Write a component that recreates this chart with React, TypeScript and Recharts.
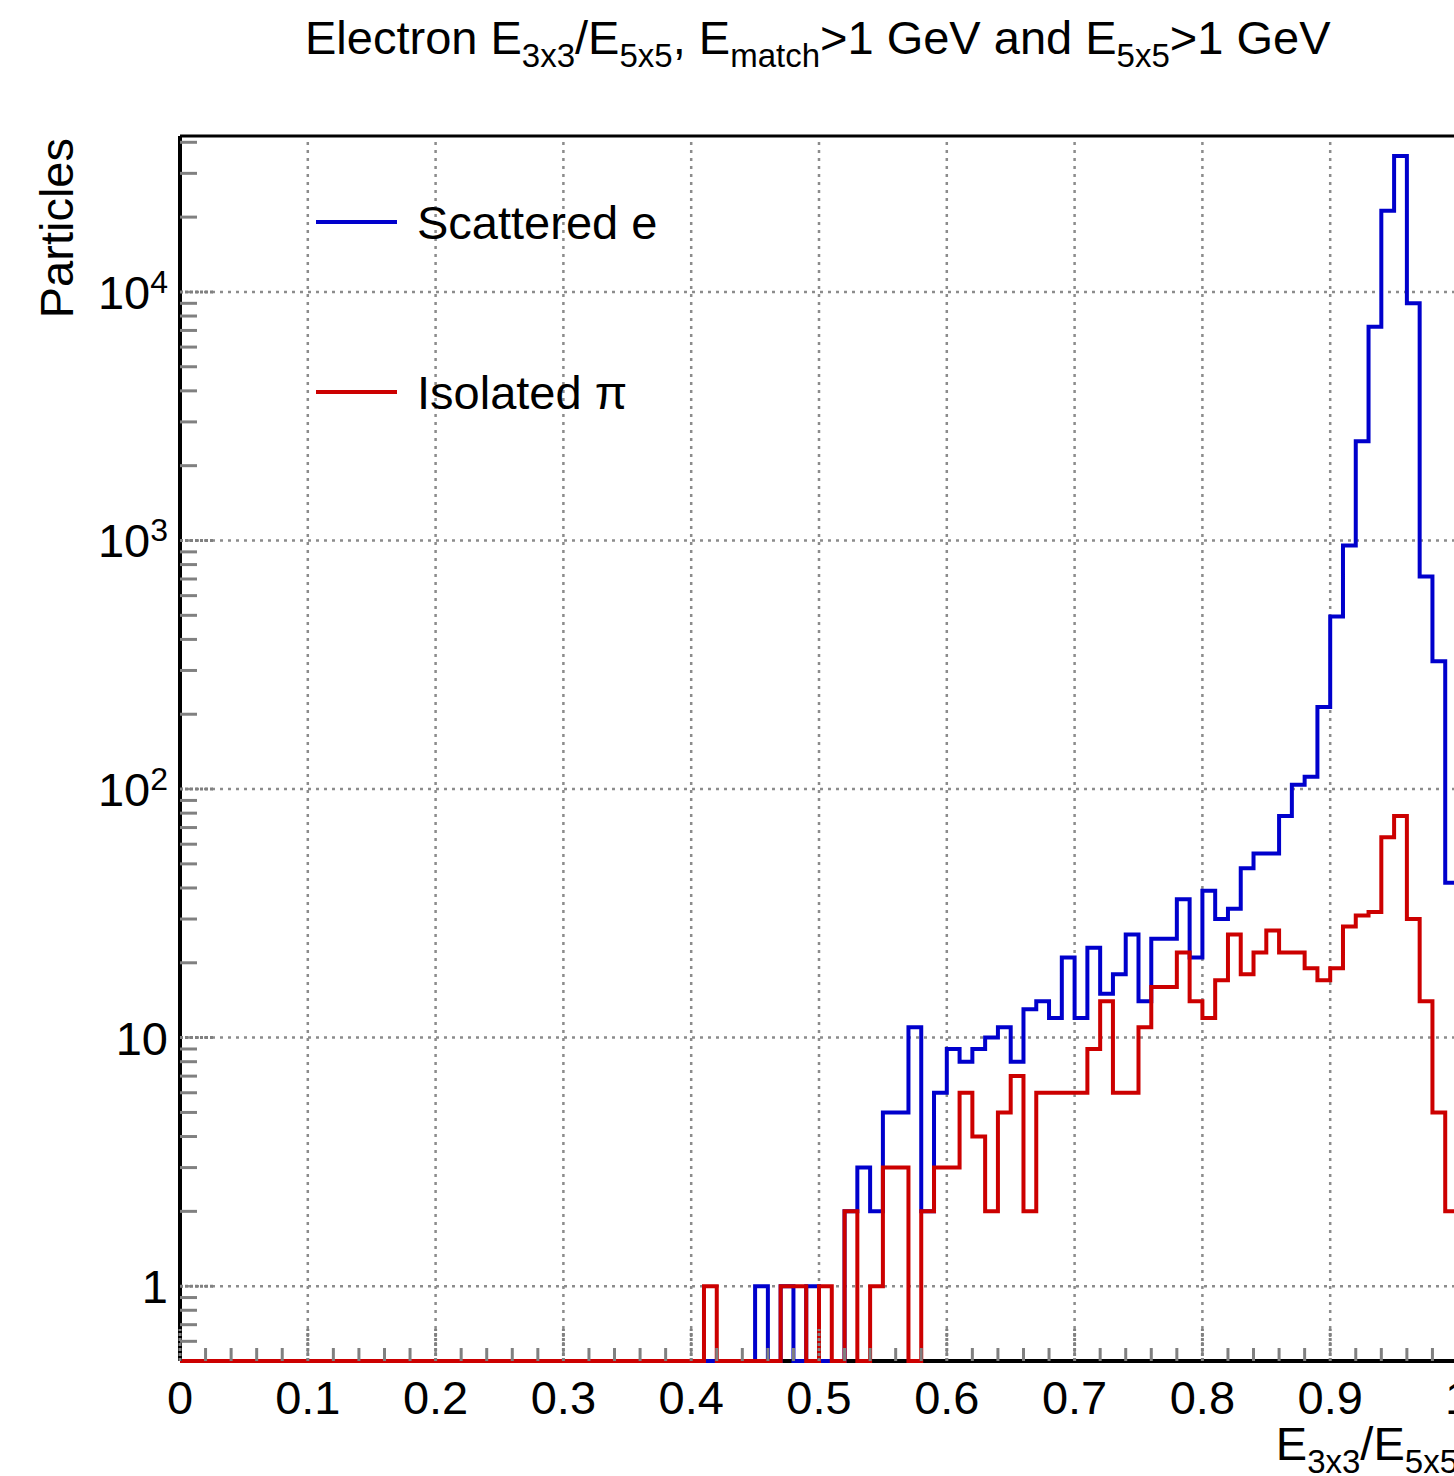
import { LineChart, Line, XAxis, YAxis, ReferenceLine } from 'recharts';

// 100 bins of width 0.01 over E3x3/E5x5 in [0, 1]
const binEdges = Array.from({ length: 101 }, (_, i) => Number((i * 0.01).toFixed(2)));

const electronCounts = [
  0, 0, 0, 0, 0, 0, 0, 0, 0, 0,
  0, 0, 0, 0, 0, 0, 0, 0, 0, 0,
  0, 0, 0, 0, 0, 0, 0, 0, 0, 0,
  0, 0, 0, 0, 0, 0, 0, 0, 0, 0,
  0, 0, 0, 0, 0, 1, 0, 1, 0, 1,
  0, 0, 2, 3, 2, 5, 5, 11, 2, 6,
  9, 8, 9, 10, 11, 8, 13, 14, 12, 21,
  12, 23, 15, 18, 26, 14, 25, 25, 36, 21,
  39, 30, 33, 48, 55, 55, 78, 104, 112, 214,
  494, 955, 2510, 7250, 21200, 35200, 9000, 716, 327, 42,
];

const pionCounts = [
  0, 0, 0, 0, 0, 0, 0, 0, 0, 0,
  0, 0, 0, 0, 0, 0, 0, 0, 0, 0,
  0, 0, 0, 0, 0, 0, 0, 0, 0, 0,
  0, 0, 0, 0, 0, 0, 0, 0, 0, 0,
  0, 1, 0, 0, 0, 0, 0, 1, 1, 0,
  1, 0, 2, 0, 1, 3, 3, 0, 2, 3,
  3, 6, 4, 2, 5, 7, 2, 6, 6, 6,
  6, 9, 14, 6, 6, 11, 16, 16, 22, 14,
  12, 17, 26, 18, 22, 27, 22, 22, 19, 17,
  19, 28, 31, 32, 64, 78, 30, 14, 5, 2,
];

const xMajorTicks = [0, 0.1, 0.2, 0.3, 0.4, 0.5, 0.6, 0.7, 0.8, 0.9, 1];
const xMinorTicks = [
  0.02, 0.04, 0.06, 0.08, 0.12, 0.14, 0.16, 0.18, 0.22, 0.24, 0.26, 0.28,
  0.32, 0.34, 0.36, 0.38, 0.42, 0.44, 0.46, 0.48, 0.52, 0.54, 0.56, 0.58,
  0.62, 0.64, 0.66, 0.68, 0.72, 0.74, 0.76, 0.78, 0.82, 0.84, 0.86, 0.88,
  0.92, 0.94, 0.96, 0.98,
];
const xTickLabels = ['0', '0.1', '0.2', '0.3', '0.4', '0.5', '0.6', '0.7', '0.8', '0.9', '1'];

const yDecades = [1, 10, 100, 1000, 10000];
const yTickBase = ['1', '10', '10', '10', '10'];
const yTickExp = ['', '', '2', '3', '4'];
const yMinorTicks = [
  0.6, 0.7, 0.8, 0.9,
  2, 3, 4, 5, 6, 7, 8, 9,
  20, 30, 40, 50, 60, 70, 80, 90,
  200, 300, 400, 500, 600, 700, 800, 900,
  2000, 3000, 4000, 5000, 6000, 7000, 8000, 9000,
  20000, 30000, 40000,
];

// text pieces: [text, isSubscript]
const titleParts: [string, boolean][] = [
  ['Electron E', false], ['3x3', true], ['/E', false], ['5x5', true],
  [', E', false], ['match', true], ['>1 GeV and E', false], ['5x5', true], ['>1 GeV', false],
];
const xTitleParts: [string, boolean][] = [['E', false], ['3x3', true], ['/E', false], ['5x5', true]];

const Y_MIN = 0.5;
const Y_MAX = 42400;

const BLUE = '#0000cc';
const RED = '#cc0000';
const FONT = '"Liberation Sans", Arial, Helvetica, sans-serif';
const FS = 47;
const SUB_FS = 33;
const SUB_DY = 13;
const TICK_GRAY = '#808080';
const GRID_GRAY = '#8c8c8c';

// zero bins sit on the frame bottom, as ROOT draws them on a log axis
const rows = binEdges.map((x, i) => {
  const k = Math.min(i, 99);
  return {
    x,
    electron: Math.max(electronCounts[k], Y_MIN),
    pion: Math.max(pionCounts[k], Y_MIN),
  };
});

function richText(parts: [string, boolean][]) {
  let down = false;
  return parts.map(([t, sub], i) => {
    const dy = sub && !down ? SUB_DY : !sub && down ? -SUB_DY : 0;
    down = sub;
    return (
      <tspan key={i} dy={dy} fontSize={sub ? SUB_FS : FS}>
        {t}
      </tspan>
    );
  });
}

function XTick(props: any) {
  const { x, y, payload } = props;
  const v = payload.value;
  const major = xMajorTicks.indexOf(v);
  if (major < 0) {
    return <line x1={x} x2={x} y1={y} y2={y - 13} stroke={TICK_GRAY} strokeWidth={3} />;
  }
  return (
    <g>
      <line x1={x} x2={x} y1={y} y2={y - 32} stroke={TICK_GRAY} strokeWidth={3} strokeDasharray="3 2" />
      <text x={x} y={y + 53} textAnchor="middle" fontSize={FS} fontFamily={FONT} fill="#000">
        {xTickLabels[major]}
      </text>
    </g>
  );
}

function YTick(props: any) {
  const { x, y, payload } = props;
  const v = payload.value;
  const d = yDecades.indexOf(v);
  if (d < 0) {
    return <line x1={x} x2={x + 17} y1={y} y2={y} stroke={TICK_GRAY} strokeWidth={3} />;
  }
  return (
    <g>
      <line x1={x} x2={x + 33} y1={y} y2={y} stroke={TICK_GRAY} strokeWidth={3} strokeDasharray="3 2" />
      <text x={x - 12} y={y + 17} textAnchor="end" fontSize={FS} fontFamily={FONT} fill="#000">
        {yTickBase[d]}
        {yTickExp[d] ? (
          <tspan dy={-16} fontSize={32}>
            {yTickExp[d]}
          </tspan>
        ) : null}
      </text>
    </g>
  );
}

export default function App() {
  return (
    <div style={{ position: 'absolute', left: 0, top: 0, width: 1454, height: 1476, overflow: 'hidden', background: '#fff' }}>
      <LineChart
        width={1500}
        height={1476}
        data={rows}
        margin={{ top: 136, right: 42, left: 0, bottom: 0 }}
      >
        <XAxis
          dataKey="x"
          type="number"
          domain={[0, 1]}
          ticks={[...xMajorTicks, ...xMinorTicks]}
          interval={0}
          height={115}
          tickSize={0}
          tickMargin={0}
          tickLine={false}
          tick={XTick}
          axisLine={false}
        />
        <YAxis
          type="number"
          scale="log"
          domain={[Y_MIN, Y_MAX]}
          ticks={[...yDecades, ...yMinorTicks]}
          interval={0}
          width={180}
          tickSize={0}
          tickMargin={0}
          tickLine={false}
          tick={YTick}
          axisLine={{ stroke: '#000', strokeWidth: 4 }}
        />
        {xMajorTicks.slice(1, 10).map((v) => (
          <ReferenceLine key={`gx${v}`} x={v} stroke={GRID_GRAY} strokeWidth={2.5} strokeDasharray="3 5" />
        ))}
        {yDecades.map((v) => (
          <ReferenceLine key={`gy${v}`} y={v} stroke={GRID_GRAY} strokeWidth={2.5} strokeDasharray="3 5" />
        ))}
        <ReferenceLine y={Y_MAX} stroke="#000" strokeWidth={3} />
        <ReferenceLine y={Y_MIN} stroke="#000" strokeWidth={4} />
        <ReferenceLine x={1} stroke="#000" strokeWidth={3} />
        <Line
          type="stepAfter"
          dataKey="electron"
          stroke={BLUE}
          strokeWidth={4}
          dot={false}
          strokeLinejoin="miter"
          isAnimationActive={false}
        />
        <Line
          type="stepAfter"
          dataKey="pion"
          stroke={RED}
          strokeWidth={4}
          dot={false}
          strokeLinejoin="miter"
          isAnimationActive={false}
        />
      </LineChart>

      <svg
        width={1454}
        height={1476}
        style={{ position: 'absolute', left: 0, top: 0, pointerEvents: 'none' }}
      >
        <text x={305} y={54} fontFamily={FONT} fill="#000">
          {richText(titleParts)}
        </text>

        <text
          x={73}
          y={138}
          transform="rotate(-90 73 138)"
          textAnchor="end"
          fontSize={FS}
          fontFamily={FONT}
          fill="#000"
        >
          Particles
        </text>

        <text x={1458} y={1460} textAnchor="end" fontFamily={FONT} fill="#000">
          {richText(xTitleParts)}
        </text>

        <line x1={316} x2={397} y1={222} y2={222} stroke={BLUE} strokeWidth={4} />
        <text x={417} y={239} fontSize={FS} fontFamily={FONT} fill="#000">Scattered e</text>
        <line x1={316} x2={397} y1={392} y2={392} stroke={RED} strokeWidth={4} />
        <text x={417} y={409} fontSize={FS} fontFamily={FONT} fill="#000">Isolated π</text>
      </svg>
    </div>
  );
}
